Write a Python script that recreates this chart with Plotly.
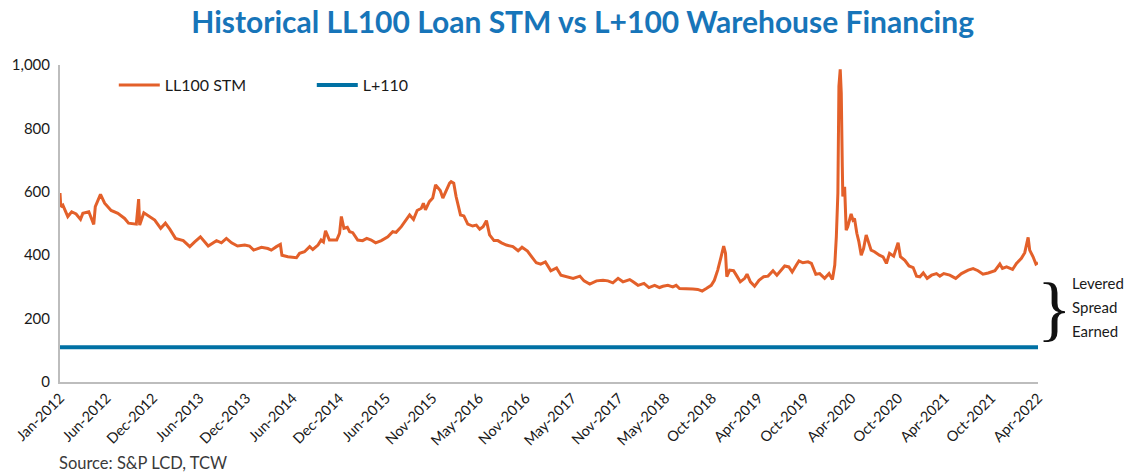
import pandas as pd
import plotly.graph_objects as go

# LL100 spread-to-maturity (bps), sampled from the daily history
stm_dates = [
    "2012-01-03", "2012-01-06", "2012-01-14", "2012-02-02", "2012-02-17", "2012-03-05",
    "2012-03-22", "2012-03-31", "2012-04-23", "2012-05-12", "2012-05-18", "2012-06-07",
    "2012-06-23", "2012-07-18", "2012-08-13", "2012-09-08", "2012-09-23", "2012-10-23",
    "2012-11-01", "2012-11-05", "2012-11-21", "2012-12-13",
    "2013-01-02", "2013-01-25", "2013-02-12", "2013-03-01", "2013-03-23", "2013-04-22",
    "2013-05-17", "2013-06-05", "2013-06-27", "2013-07-27", "2013-08-28", "2013-09-16",
    "2013-10-05", "2013-10-25", "2013-11-17", "2013-12-15",
    "2014-01-02", "2014-01-18", "2014-02-17", "2014-03-14", "2014-03-27", "2014-04-16",
    "2014-05-01", "2014-05-07", "2014-05-30", "2014-07-02", "2014-07-14", "2014-08-02",
    "2014-08-22", "2014-09-03", "2014-09-23", "2014-10-05", "2014-10-14", "2014-10-22",
    "2014-11-06", "2014-12-04", "2014-12-15", "2014-12-22",
    "2015-01-01", "2015-01-14", "2015-01-23", "2015-02-04", "2015-02-23", "2015-03-14",
    "2015-03-30", "2015-04-16", "2015-05-03", "2015-05-25", "2015-06-19", "2015-07-08",
    "2015-07-21", "2015-08-10", "2015-08-29", "2015-09-11", "2015-09-26", "2015-10-10",
    "2015-10-26", "2015-11-03", "2015-11-11", "2015-11-26", "2015-12-09", "2015-12-20",
    "2016-01-07", "2016-01-17", "2016-01-30", "2016-02-12", "2016-02-18", "2016-02-28",
    "2016-03-08", "2016-03-14", "2016-03-25", "2016-04-07", "2016-04-22", "2016-05-11",
    "2016-05-25", "2016-06-07", "2016-06-20", "2016-07-03", "2016-07-15", "2016-08-01",
    "2016-08-16", "2016-08-30", "2016-09-18", "2016-10-13", "2016-11-02", "2016-11-17",
    "2016-12-08", "2016-12-26",
    "2017-01-11", "2017-01-28", "2017-02-15", "2017-03-08", "2017-03-30", "2017-04-16",
    "2017-05-08", "2017-06-02", "2017-06-28", "2017-07-14", "2017-08-05", "2017-08-31",
    "2017-09-25", "2017-10-14", "2017-11-02", "2017-11-22", "2017-12-11",
    "2018-01-06", "2018-01-19", "2018-02-07", "2018-03-02", "2018-03-21", "2018-04-12",
    "2018-05-01", "2018-05-14", "2018-06-02", "2018-06-21", "2018-07-04", "2018-07-17",
    "2018-08-12", "2018-09-06", "2018-09-25", "2018-10-12", "2018-10-28", "2018-11-16",
    "2018-11-28", "2018-12-11", "2018-12-24",
    "2019-01-03", "2019-01-10", "2019-01-15", "2019-01-26", "2019-02-10", "2019-02-23",
    "2019-03-08", "2019-03-25", "2019-04-03", "2019-04-16", "2019-05-02", "2019-05-19",
    "2019-06-06", "2019-06-23", "2019-07-12", "2019-07-27", "2019-08-13", "2019-08-26",
    "2019-09-11", "2019-09-24", "2019-10-10", "2019-10-20", "2019-11-04", "2019-11-24",
    "2019-12-07", "2019-12-24",
    "2020-01-08", "2020-01-27", "2020-02-13", "2020-02-26", "2020-03-06", "2020-03-12",
    "2020-03-18", "2020-03-22", "2020-03-27", "2020-03-31", "2020-04-04", "2020-04-06",
    "2020-04-13", "2020-04-19", "2020-04-25", "2020-05-08", "2020-05-15", "2020-05-21",
    "2020-05-30", "2020-06-07", "2020-06-16", "2020-06-25", "2020-07-05", "2020-07-15",
    "2020-07-24", "2020-08-06", "2020-08-25", "2020-09-08", "2020-09-21", "2020-10-03",
    "2020-10-19", "2020-11-05", "2020-11-14", "2020-12-01", "2020-12-17",
    "2021-01-02", "2021-01-15", "2021-01-28", "2021-02-10", "2021-02-25", "2021-03-14",
    "2021-04-02", "2021-04-15", "2021-04-30", "2021-05-23", "2021-06-15", "2021-07-07",
    "2021-08-02", "2021-08-21", "2021-09-09", "2021-09-28", "2021-10-18", "2021-11-13",
    "2021-12-02", "2021-12-12", "2021-12-28",
    "2022-01-20", "2022-02-04", "2022-02-23", "2022-03-08", "2022-03-21", "2022-03-27",
    "2022-04-09", "2022-04-20", "2022-04-28",
]

stm_values = [
    596, 553, 558, 522, 537, 530, 513, 532, 537, 497, 553, 592,
    564, 541, 532, 516, 501, 498, 577, 495, 534, 522,
    511, 485, 501, 482, 453, 446, 427, 442, 458, 429, 446, 439,
    453, 439, 429, 432,
    429, 416, 425, 421, 416, 427, 434, 400, 395, 392, 406, 411,
    427, 418, 432, 448, 442, 477, 448, 448, 469, 522,
    485, 488, 474, 471, 448, 446, 453, 448, 439, 446, 458, 474,
    472, 490, 511, 527, 513, 541, 548, 564, 543, 569, 580, 622,
    604, 580, 604, 627, 632, 627, 585, 564, 527, 524, 498, 492,
    495, 482, 490, 509, 464, 446, 446, 439, 432, 427, 414, 425,
    413, 393,
    376, 372, 379, 351, 360, 337, 332, 327, 334, 319, 309, 319,
    321, 319, 313, 327, 316,
    323, 316, 305, 311, 298, 305, 298, 302, 305, 300, 305, 295,
    295, 293, 292, 287, 295, 305, 321, 353, 395,
    429, 406, 332, 353, 351, 334, 316, 327, 340, 316, 302, 321,
    332, 334, 351, 337, 353, 366, 363, 347, 369, 382, 376, 379,
    374, 340,
    342, 327, 342, 323, 369, 458, 596, 933, 986, 912, 680, 585,
    616, 479, 490, 530, 511, 516, 469, 442, 400, 421, 464, 442,
    416, 411, 400, 395, 374, 406, 397, 439, 395, 384, 366,
    361, 334, 332, 344, 327, 337, 342, 334, 342, 337, 327, 342,
    353, 358, 351, 340, 344, 351, 372, 358, 363,
    355, 374, 390, 408, 456, 416, 395, 372, 376,
]

# Warehouse financing cost: LIBOR + 110 bps
warehouse_spread = 110

tick_labels = [
    "Jan-2012", "Jun-2012", "Dec-2012", "Jun-2013", "Dec-2013", "Jun-2014",
    "Dec-2014", "Jun-2015", "Nov-2015", "May-2016", "Nov-2016", "May-2017",
    "Nov-2017", "May-2018", "Oct-2018", "Apr-2019", "Oct-2019", "Apr-2020",
    "Oct-2020", "Apr-2021", "Oct-2021", "Apr-2022",
]

y_ticks = [0, 200, 400, 600, 800, 1000]

ORANGE = "#E3602A"
BLUE = "#0071A4"
TITLE_BLUE = "#1775B9"
FONT = "Lato, 'Open Sans', sans-serif"

x = pd.to_datetime(stm_dates)
tick_pos = pd.date_range(x[0], x[-1], periods=len(tick_labels))

fig = go.Figure()
fig.add_trace(go.Scatter(
    x=x, y=stm_values, mode="lines", name="LL100 STM",
    line=dict(color=ORANGE, width=3),
))
fig.add_trace(go.Scatter(
    x=x, y=[warehouse_spread] * len(x), mode="lines", name="L+110",
    line=dict(color=BLUE, width=4),
))

fig.update_layout(
    width=1127, height=474,
    margin=dict(l=60, r=89, t=65, b=92),
    paper_bgcolor="white", plot_bgcolor="white",
    font=dict(family=FONT, size=15, color="#1a1a1a"),
    title=dict(
        text="<b>Historical LL100 Loan STM vs L+100 Warehouse Financing</b>",
        x=0.517, xanchor="center", xref="container",
        y=0.953, yanchor="middle", yref="container",
        font=dict(family=FONT, size=30, color=TITLE_BLUE),
    ),
    legend=dict(
        orientation="h", x=0.055, y=0.99, xanchor="left", yanchor="top",
        font=dict(size=16, color="#1a1a1a"),
        entrywidth=142, entrywidthmode="pixels",
        bgcolor="rgba(0,0,0,0)", itemwidth=41,
    ),
    showlegend=True,
)

fig.update_xaxes(
    type="date", range=[x[0], x[-1]],
    tickmode="array", tickvals=tick_pos, ticktext=tick_labels,
    tickangle=-45, tickfont=dict(size=14.5, color="#1a1a1a"),
    showgrid=False, zeroline=False,
    showline=True, linecolor="#BDBDBD", linewidth=2,
    ticks="",
)
fig.update_yaxes(
    range=[0, 1000], tickmode="array", tickvals=y_ticks,
    tickformat=",", tickfont=dict(size=15, color="#1a1a1a"),
    showgrid=False, zeroline=False,
    showline=True, linecolor="#BDBDBD", linewidth=2,
    ticks="", ticklabelstandoff=5,
)

# Spread bracket between the loan spread and the financing cost
fig.add_annotation(
    text="}", xref="paper", yref="y", x=0.997, y=233,
    xanchor="left", yanchor="middle", showarrow=False,
    font=dict(family="Liberation Serif, serif", size=72, color="#111111"),
)
for label, level in [("Levered", 312), ("Spread", 236), ("Earned", 160)]:
    fig.add_annotation(
        text=label, xref="paper", yref="y", x=1.0327, y=level,
        xanchor="left", yanchor="middle", showarrow=False,
        font=dict(size=15, color="#1a1a1a"),
    )

fig.add_annotation(
    text="Source: S&P LCD, TCW", xref="paper", yref="paper",
    x=-0.003, y=-0.255, xanchor="left", yanchor="middle", showarrow=False,
    font=dict(size=16.5, color="#3a3a3a"),
)

fig.write_html("out.html")
